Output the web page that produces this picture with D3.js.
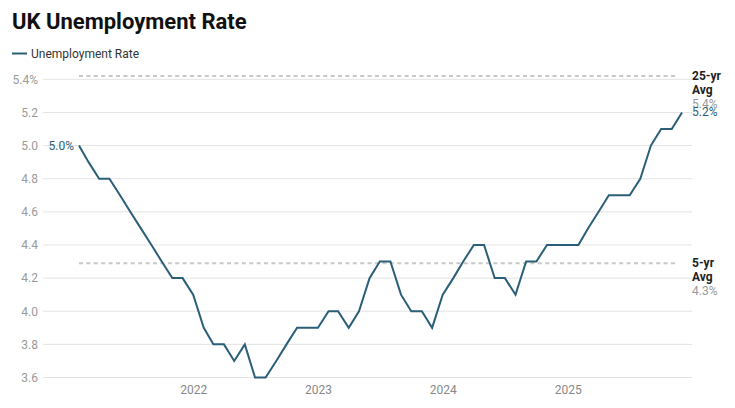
<!DOCTYPE html>
<html>
<head>
<meta charset="utf-8">
<script src="https://cdn.jsdelivr.net/npm/d3@7"></script>
<style>
   body { margin: 0; background: #fff; font-family: Roboto, "Noto Sans", sans-serif; }
   svg { display: block; }
</style>
</head>
<body>
<div id="chart"></div>
<script>
// UK Unemployment Rate
var svgWidth = 735;
var svgHeight = 408;

// monthly series, Feb 2021 - Dec 2025
var startMonth = "2021-02";
var rates = [
   5.0, 4.9, 4.8, 4.8, 4.7, 4.6, 4.5, 4.4, 4.3, 4.2, 4.2,
   4.1, 3.9, 3.8, 3.8, 3.7, 3.8, 3.6, 3.6, 3.7, 3.8, 3.9, 3.9,
   3.9, 4.0, 4.0, 3.9, 4.0, 4.2, 4.3, 4.3, 4.1, 4.0, 4.0, 3.9,
   4.1, 4.2, 4.3, 4.4, 4.4, 4.2, 4.2, 4.1, 4.3, 4.3, 4.4, 4.4,
   4.4, 4.4, 4.5, 4.6, 4.7, 4.7, 4.7, 4.8, 5.0, 5.1, 5.1, 5.2
];
var yTicks = [3.6, 3.8, 4.0, 4.2, 4.4, 4.6, 4.8, 5.0, 5.2, 5.4];
var avgNames = ["25-yr", "5-yr"];
var avgValues = [5.42, 4.29];
var avgLabels = ["5.4%", "4.3%"];

var lineColor = "#2b5e79";

var parseMonth = d3.timeParse("%Y-%m");
var firstDate = parseMonth(startMonth);
var data = rates.map(function (r, i) {
   return { date: d3.timeMonth.offset(firstDate, i), rate: r };
});
var lastDate = data[data.length - 1].date;

var svg = d3.select("#chart")
   .append("svg")
   .attr("width", svgWidth)
   .attr("height", svgHeight);

// scales
var xScale = d3.scaleTime()
   .domain([firstDate, lastDate])
   .range([79, 682]);
var yScale = d3.scaleLinear()
   .domain([3.6, 5.4])
   .range([377.5, 79.3]);

var gridLeft = 43;
var gridRight = 692;

// title
svg.append("text")
   .attr("x", 12)
   .attr("y", 29)
   .attr("font-size", 22)
   .attr("font-weight", "bold")
   .attr("fill", "#111")
   .text("UK Unemployment Rate");

// legend
svg.append("line")
   .attr("x1", 12).attr("x2", 27)
   .attr("y1", 53.5).attr("y2", 53.5)
   .attr("stroke", lineColor)
   .attr("stroke-width", 2);
svg.append("text")
   .attr("x", 31)
   .attr("y", 57.5)
   .attr("font-size", 12)
   .attr("fill", "#333")
   .text("Unemployment Rate");

// gridlines
svg.append("g")
   .selectAll("line")
   .data(yTicks)
   .enter()
   .append("line")
   .attr("x1", gridLeft)
   .attr("x2", gridRight)
   .attr("y1", d => yScale(d))
   .attr("y2", d => yScale(d))
   .attr("stroke", "#e3e3e3")
   .attr("stroke-width", 1);

// y axis labels
var leftAxis = d3.axisLeft(yScale)
   .tickValues(yTicks)
   .tickSize(0)
   .tickPadding(0)
   .tickFormat(function (d, i) {
      return i === yTicks.length - 1 ? d3.format(".1f")(d) + "%" : d3.format(".1f")(d);
   });
var yAxis = svg.append("g")
   .attr("transform", "translate(38, 0)")
   .call(leftAxis);
yAxis.select(".domain").remove();
yAxis.selectAll("text")
   .attr("font-family", "Roboto, sans-serif")
   .attr("font-size", 12)
   .attr("fill", "#9a9a9a");

// x axis labels
var bottomAxis = d3.axisBottom(xScale)
   .ticks(d3.timeYear.every(1))
   .tickSize(0)
   .tickPadding(0)
   .tickFormat(d3.timeFormat("%Y"));
var xAxis = svg.append("g")
   .attr("transform", "translate(0, 385)")
   .call(bottomAxis);
xAxis.select(".domain").remove();
xAxis.selectAll("text")
   .attr("font-family", "Roboto, sans-serif")
   .attr("font-size", 12)
   .attr("fill", "#888");

// average reference lines
svg.append("g")
   .selectAll("line")
   .data(avgValues)
   .enter()
   .append("line")
   .attr("x1", xScale(firstDate))
   .attr("x2", xScale(lastDate) - 5)
   .attr("y1", d => yScale(d))
   .attr("y2", d => yScale(d))
   .attr("stroke", "#c8c8c8")
   .attr("stroke-width", 2)
   .attr("stroke-dasharray", "4,3.4");

var avgGroup = svg.append("g")
   .selectAll("text")
   .data(avgValues)
   .enter()
   .append("text")
   .attr("x", gridRight)
   .attr("y", d => yScale(d) + 4)
   .attr("font-size", 12);
avgGroup.append("tspan")
   .attr("font-weight", "bold")
   .attr("fill", "#222")
   .text((d, i) => avgNames[i]);
avgGroup.append("tspan")
   .attr("x", gridRight)
   .attr("dy", 14)
   .attr("font-weight", "bold")
   .attr("fill", "#222")
   .text("Avg");
avgGroup.append("tspan")
   .attr("x", gridRight)
   .attr("dy", 14)
   .attr("fill", "#999")
   .text((d, i) => avgLabels[i]);

// the line
var line = d3.line()
   .x(d => xScale(d.date))
   .y(d => yScale(d.rate));
svg.append("path")
   .datum(data)
   .attr("d", line)
   .attr("fill", "none")
   .attr("stroke", lineColor)
   .attr("stroke-width", 2)
   .attr("stroke-linejoin", "miter");

// first and last value labels
var first = data[0];
var last = data[data.length - 1];
svg.append("text")
   .attr("x", xScale(first.date) - 5)
   .attr("y", yScale(first.rate) + 4)
   .attr("text-anchor", "end")
   .attr("font-size", 12)
   .attr("fill", lineColor)
   .text(d3.format(".1f")(first.rate) + "%");
svg.append("text")
   .attr("x", gridRight)
   .attr("y", yScale(last.rate) + 4)
   .attr("font-size", 12)
   .attr("fill", lineColor)
   .text(d3.format(".1f")(last.rate) + "%");
</script>
</body>
</html>
